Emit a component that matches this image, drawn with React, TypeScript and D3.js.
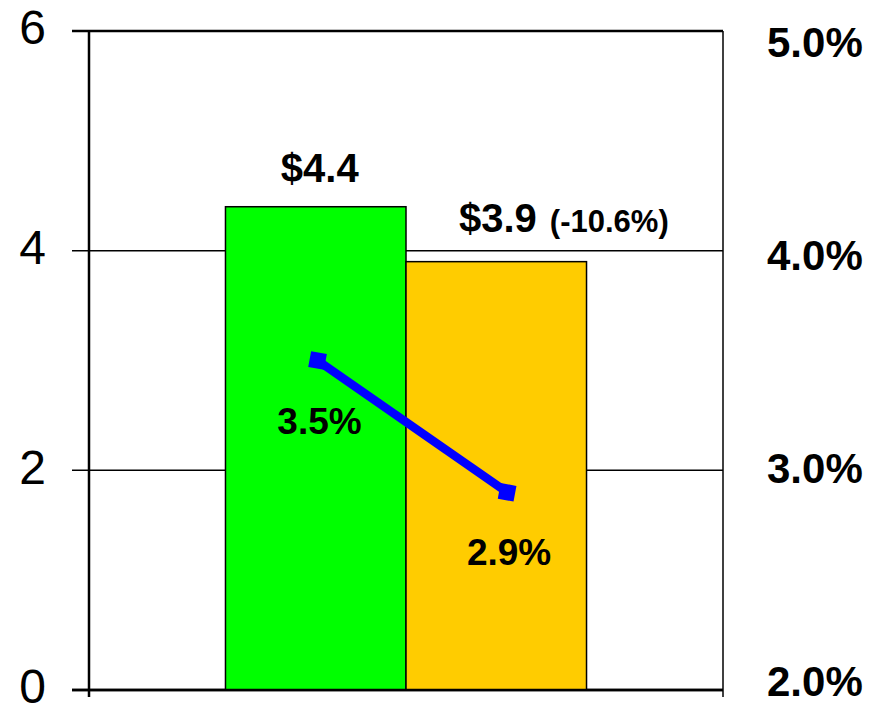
import React from "react";
import * as d3 from "d3";

// Sales (billions of dollars) by year, plus margin on the secondary axis
const categories = ["Prior", "Current"];
const salesValues = [4.4, 3.9];
const salesLabels = ["$4.4", "$3.9"];
const changeLabel = "(-10.6%)";
const marginValues = [3.5, 2.9];
const marginLabels = ["3.5%", "2.9%"];
const leftTicks = [0, 2, 4, 6];
const rightTicks = [2, 3, 4, 5];
const barColors = ["#00FF00", "#FFCC00"];

const W = 883;
const H = 707;
const margin = { top: 31, right: 160, bottom: 17, left: 89 };
// where each margin marker sits across its bar (fraction of bar width)
const markerFrac = [0.51, 0.56];

export default function App() {
  const x0 = margin.left;
  const x1 = W - margin.right;
  const yTop = margin.top;
  const yBot = H - margin.bottom;

  const y = d3.scaleLinear().domain([0, 6]).range([yBot, yTop]);
  const yR = d3.scaleLinear().domain([2, 5]).range([yBot, yTop]);
  const yRLabel = yR.copy().range([yBot - 9, yTop + 11]);

  // two clustered bars sit side by side in the middle of the plot
  const band = d3
    .scaleBand<string>()
    .domain(categories)
    .range([x0, x1])
    .paddingInner(0)
    .paddingOuter(0.756);
  const barW = band.bandwidth();

  const font = "'Liberation Sans', Arial, Helvetica, sans-serif";

  const pts = categories.map((c, i) => [
    (band(c) as number) + barW * markerFrac[i],
    yR(marginValues[i]),
  ]);
  const line = d3.line()(pts as [number, number][]) as string;
  const angle =
    (Math.atan2(pts[1][1] - pts[0][1], pts[1][0] - pts[0][0]) * 180) / Math.PI;

  return (
    <svg width={W} height={H} style={{ position: "absolute", left: 0, top: 0 }}>
      <rect width={W} height={H} fill="#fff" />
      {/* gridlines / left ticks */}
      {leftTicks.map((t) => (
        <line
          key={t}
          x1={x0 - 17}
          x2={x1}
          y1={y(t)}
          y2={y(t)}
          stroke="#000"
          strokeWidth={t === 0 || t === 6 ? 2.5 : 1.5}
        />
      ))}
      {/* bars */}
      {categories.map((c, i) => (
        <rect
          key={c}
          x={band(c)}
          y={y(salesValues[i])}
          width={barW}
          height={y(0) - y(salesValues[i])}
          fill={barColors[i]}
          stroke="#000"
          strokeWidth={1.5}
        />
      ))}
      {/* axes frame */}
      <line x1={x0} x2={x0} y1={yTop} y2={yBot + 7} stroke="#000" strokeWidth={2.5} />
      <line x1={x1} x2={x1} y1={yTop} y2={yBot + 7} stroke="#000" strokeWidth={1.5} />
      <line x1={x0 - 17} x2={x1} y1={yBot} y2={yBot} stroke="#000" strokeWidth={2.5} />

      {/* margin line */}
      <path d={line} fill="none" stroke="#0000FF" strokeWidth={8.5} />
      {pts.map((p, i) => (
        <rect
          key={i}
          x={-8}
          y={-8}
          width={16}
          height={16}
          fill="#0000FF"
          transform={`translate(${p[0]},${p[1]}) rotate(${angle * 0.3})`}
        />
      ))}

      {/* left axis labels */}
      {leftTicks.map((t) => (
        <text
          key={t}
          x={46}
          y={y(t)}
          dy="0.28em"
          textAnchor="end"
          fontFamily={font}
          fontSize={48}
          fill="#000"
        >
          {t}
        </text>
      ))}
      {/* right axis labels */}
      {rightTicks.map((t) => (
        <text
          key={t}
          x={767}
          y={yRLabel(t)}
          dy="0.36em"
          fontFamily={font}
          fontSize={42}
          fontWeight="bold"
          fill="#000"
        >
          {d3.format(".1f")(t)}%
        </text>
      ))}

      {/* bar value labels */}
      <text
        x={(band(categories[0]) as number) + barW / 2 + 4}
        y={y(salesValues[0]) - 25}
        textAnchor="middle"
        fontFamily={font}
        fontSize={40}
        fontWeight="bold"
      >
        {salesLabels[0]}
      </text>
      <text
        x={459}
        y={y(salesValues[1]) - 30}
        fontFamily={font}
        fontWeight="bold"
      >
        <tspan fontSize={40}>{salesLabels[1]}</tspan>
        <tspan fontSize={31} dx={13}>{changeLabel}</tspan>
      </text>

      {/* margin value labels */}
      {pts.map((p, i) => (
        <text
          key={i}
          x={p[0] + 2}
          y={p[1] + 73}
          textAnchor="middle"
          fontFamily={font}
          fontSize={37}
          fontWeight="bold"
        >
          {marginLabels[i]}
        </text>
      ))}
    </svg>
  );
}
